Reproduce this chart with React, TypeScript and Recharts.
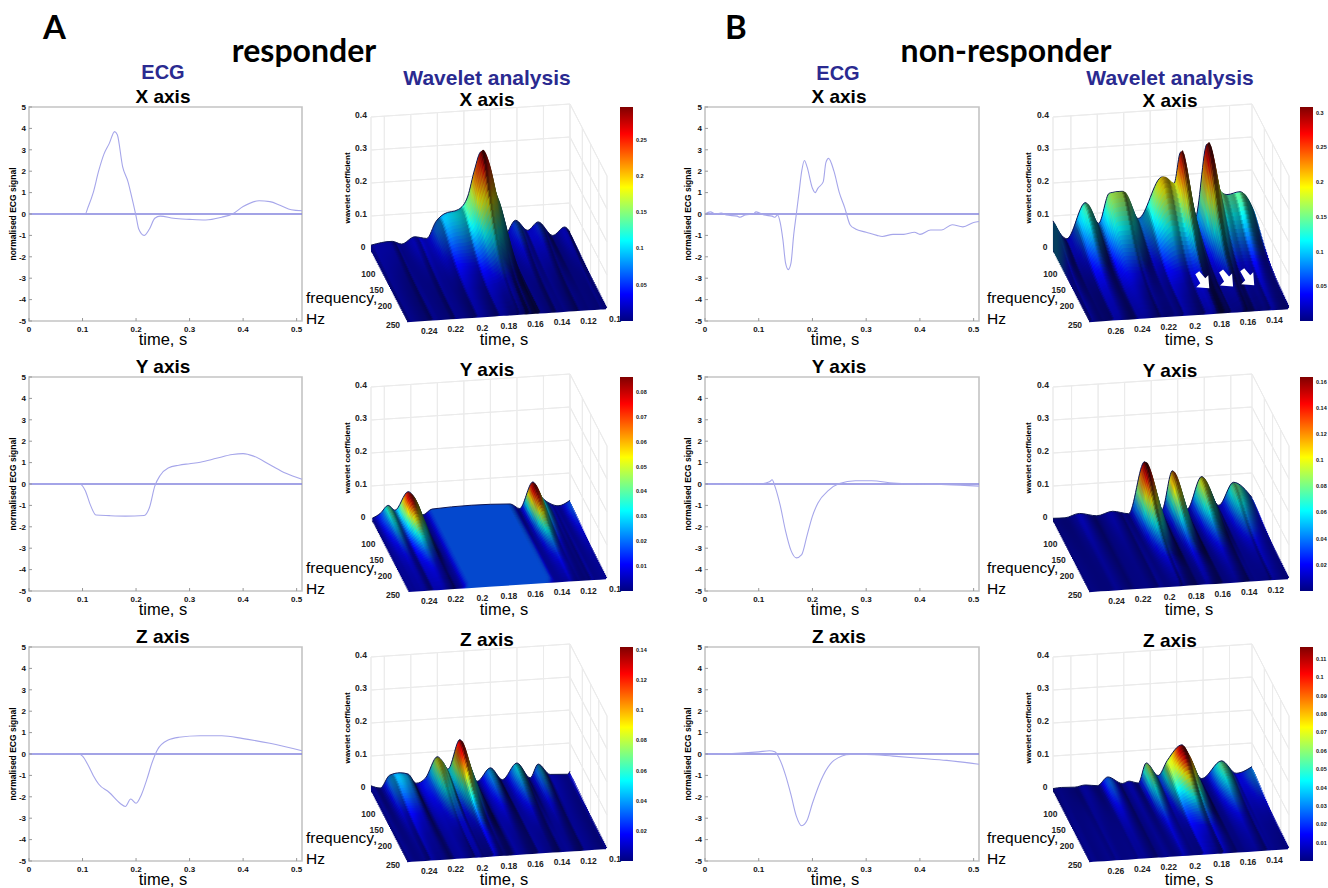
import React from 'react';
import { Area, Bar, BarChart, ComposedChart, Line, LineChart, ReferenceArea, ReferenceLine, Scatter, XAxis, YAxis } from 'recharts';

// ECG traces: time in s, normalised signal
const ecgAxTime = [0, 0.05, 0.09, 0.105, 0.11, 0.12, 0.13, 0.14, 0.15, 0.16, 0.165, 0.175, 0.185, 0.19, 0.2, 0.205, 0.215, 0.225, 0.235, 0.245, 0.27, 0.3, 0.33, 0.36, 0.38, 0.4, 0.43, 0.45, 0.47, 0.49, 0.51];
const ecgAxValue = [0, 0, -0.02, 0, 0.3, 1, 2, 2.8, 3.3, 3.85, 3.7, 2.2, 1.5, 1, -0.1, -0.7, -1, -0.7, -0.2, -0.1, -0.2, -0.25, -0.28, -0.15, 0, 0.35, 0.62, 0.58, 0.4, 0.2, 0.15];
const ecgAyTime = [0, 0.095, 0.105, 0.115, 0.125, 0.15, 0.18, 0.215, 0.225, 0.235, 0.245, 0.26, 0.28, 0.3, 0.32, 0.35, 0.38, 0.4, 0.42, 0.45, 0.48, 0.51];
const ecgAyValue = [0, 0, -0.3, -1, -1.45, -1.48, -1.5, -1.47, -1.1, -0.1, 0.4, 0.75, 0.88, 0.95, 1.02, 1.2, 1.38, 1.42, 1.3, 0.9, 0.5, 0.22];
const ecgAzTime = [0, 0.09, 0.1, 0.11, 0.12, 0.13, 0.15, 0.17, 0.18, 0.19, 0.2, 0.21, 0.22, 0.23, 0.24, 0.26, 0.28, 0.32, 0.36, 0.4, 0.45, 0.51];
const ecgAzValue = [0, 0.02, -0.1, -0.5, -1, -1.4, -1.8, -2.3, -2.45, -2.1, -2.3, -1.9, -1.2, -0.4, 0.2, 0.65, 0.78, 0.85, 0.85, 0.72, 0.5, 0.15];
const ecgBxTime = [0, 0.01, 0.02, 0.03, 0.04, 0.06, 0.065, 0.075, 0.09, 0.095, 0.11, 0.125, 0.13, 0.135, 0.14, 0.145, 0.15, 0.155, 0.16, 0.165, 0.17, 0.175, 0.18, 0.185, 0.19, 0.2, 0.205, 0.21, 0.22, 0.225, 0.23, 0.24, 0.25, 0.26, 0.27, 0.28, 0.3, 0.32, 0.33, 0.35, 0.37, 0.39, 0.4, 0.42, 0.44, 0.46, 0.48, 0.5, 0.51];
const ecgBxValue = [0, 0.1, 0, 0.05, -0.05, -0.1, -0.15, -0.05, 0, 0.1, -0.05, -0.1, -0.15, -0.05, -0.4, -1.2, -2.3, -2.6, -2.3, -1, 0, 1, 2, 2.5, 2.2, 1.2, 1, 1.2, 1.5, 2.4, 2.6, 2, 1, 0.3, -0.5, -0.7, -0.85, -1, -1.05, -0.95, -0.95, -0.85, -0.95, -0.75, -0.75, -0.5, -0.6, -0.4, -0.35];
const ecgByTime = [0, 0.05, 0.1, 0.12, 0.125, 0.13, 0.14, 0.15, 0.16, 0.17, 0.18, 0.19, 0.2, 0.21, 0.23, 0.25, 0.28, 0.31, 0.35, 0.4, 0.45, 0.51];
const ecgByValue = [0, -0.02, 0, 0.1, 0.2, -0.1, -1, -2.2, -3.1, -3.45, -3.3, -2.4, -1.5, -0.9, -0.3, 0.02, 0.15, 0.15, 0.05, 0, -0.03, -0.1];
const ecgBzTime = [0, 0.05, 0.1, 0.12, 0.13, 0.14, 0.15, 0.16, 0.17, 0.18, 0.19, 0.2, 0.22, 0.24, 0.27, 0.3, 0.35, 0.4, 0.45, 0.51];
const ecgBzValue = [0, 0.02, 0.1, 0.15, 0.1, -0.3, -1, -1.9, -2.9, -3.35, -3.1, -2.3, -1, -0.3, -0.02, -0.02, -0.1, -0.2, -0.3, -0.48];

// wavelet surfaces: time knots, coefficient along the low and the high frequency edge
const waveAxTime = [0.25, 0.234, 0.227, 0.217, 0.208, 0.201, 0.195, 0.184, 0.177, 0.172, 0.167, 0.162, 0.158, 0.153, 0.15, 0.141, 0.132, 0.124, 0.113, 0.104, 0.1];
const waveAxBack = [0.012, 0.02, 0.009, 0.03, 0.022, 0.075, 0.097, 0.109, 0.15, 0.233, 0.29, 0.245, 0.17, 0.102, 0.012, 0.062, 0.027, 0.052, 0.005, 0.03, 0.012];
const waveAxFront = [0.006, 0.003, 0.007, 0.003, 0.006, 0.004, 0.008, 0.004, 0.007, 0.003, 0.01, 0.004, 0.008, 0.003, 0.007, 0.003, 0.006, 0.003, 0.006, 0.003, 0.005];
const waveAyTime = [0.249, 0.243, 0.237, 0.232, 0.222, 0.217, 0.211, 0.204, 0.145, 0.138, 0.128, 0.121, 0.115, 0.109, 0.1];
const waveAyBack = [0.002, 0.016, 0.04, 0.023, 0.08, 0.058, 0.002, 0.018, 0.018, 0.002, 0.085, 0.033, 0.012, 0.003, 0.018];
const waveAyFront = [0.004, 0.003, 0.006, 0.003, 0.006, 0.004, 0.003, 0.018, 0.018, 0.004, 0.006, 0.003, 0.004, 0.003, 0.004];
const waveAzTime = [0.25, 0.243, 0.236, 0.228, 0.222, 0.216, 0.209, 0.2, 0.196, 0.192, 0.183, 0.177, 0.17, 0.16, 0.151, 0.14, 0.13, 0.124, 0.115, 0.102, 0.1];
const waveAzBack = [0.01, 0.001, 0.04, 0.046, 0.04, 0.009, 0.023, 0.09, 0.073, 0.048, 0.14, 0.069, 0.002, 0.043, 0.002, 0.053, 0.002, 0.045, 0.009, 0.006, 0.015];
const waveAzFront = [0.005, 0.003, 0.006, 0.003, 0.006, 0.003, 0.007, 0.004, 0.008, 0.003, 0.009, 0.004, 0.007, 0.003, 0.006, 0.003, 0.006, 0.003, 0.005, 0.003, 0.004];
const waveBxTime = [0.2735, 0.263, 0.249, 0.239, 0.231, 0.221, 0.209, 0.191, 0.182, 0.177, 0.171, 0.166, 0.157, 0.148, 0.142, 0.132, 0.123];
const waveBxBack = [0.09, 0.03, 0.142, 0.073, 0.167, 0.171, 0.08, 0.209, 0.185, 0.285, 0.15, 0.07, 0.305, 0.155, 0.138, 0.145, 0.09];
const waveBxFront = [0.01, 0.003, 0.012, 0.004, 0.012, 0.005, 0.012, 0.004, 0.014, 0.005, 0.012, 0.004, 0.012, 0.004, 0.012, 0.005, 0.01];
const waveByTime = [0.254, 0.245, 0.234, 0.221, 0.209, 0.197, 0.185, 0.172, 0.164, 0.153, 0.142, 0.129, 0.118, 0.104];
const waveByBack = [0.002, 0.001, 0.012, 0.001, 0.012, 0.001, 0.165, 0.006, 0.13, 0.003, 0.105, 0.009, 0.08, 0.027];
const waveByFront = [0.004, 0.003, 0.005, 0.003, 0.005, 0.003, 0.008, 0.003, 0.008, 0.003, 0.007, 0.004, 0.006, 0.005];
const waveBzTime = [0.2735, 0.267, 0.257, 0.249, 0.24, 0.232, 0.221, 0.216, 0.209, 0.203, 0.194, 0.187, 0.176, 0.172, 0.161, 0.146, 0.135, 0.123];
const waveBzBack = [0.001, 0.003, 0.001, 0.006, 0.001, 0.027, 0.003, 0.009, 0.001, 0.064, 0.021, 0.068, 0.115, 0.09, 0.002, 0.055, 0.012, 0.03];
const waveBzFront = [0.004, 0.003, 0.005, 0.003, 0.005, 0.004, 0.003, 0.005, 0.003, 0.007, 0.004, 0.007, 0.004, 0.008, 0.003, 0.006, 0.003, 0.005];

// share of the ridge height kept at each frequency step, low to high frequency
const frequencyFalloff = [0.94, 0.97, 1, 0.99, 0.96, 0.92, 0.87, 0.82, 0.77, 0.71, 0.66, 0.6, 0.55, 0.5, 0.45, 0.41, 0.37, 0.33, 0.29, 0.26, 0.23, 0.2, 0.18, 0.16, 0.14, 0.12, 0.1, 0.09, 0.08, 0.07, 0.06, 0.05, 0.045, 0.04, 0.03, 0.03, 0.02, 0.02, 0.01, 0];

const ecgTimeTicks = [0, 0.1, 0.2, 0.3, 0.4, 0.5];
const ecgValueTicks = [-5, -4, -3, -2, -1, 0, 1, 2, 3, 4, 5];
const coefTicks = [0, 0.1, 0.2, 0.3, 0.4];
const freqTicks = [100, 150, 200, 250];
const timeTicksA = [0.24, 0.22, 0.2, 0.18, 0.16, 0.14, 0.12, 0.1];
const timeTicksB = [0.24, 0.22, 0.2, 0.18, 0.16, 0.14, 0.12];
const timeTicksC = [0.26, 0.24, 0.22, 0.2, 0.18, 0.16, 0.14];
const barTicksAx = [0.05, 0.1, 0.15, 0.2, 0.25];
const barTicksAy = [0.01, 0.02, 0.03, 0.04, 0.05, 0.06, 0.07, 0.08];
const barTicksAz = [0.02, 0.04, 0.06, 0.08, 0.1, 0.12, 0.14];
const barTicksBx = [0.05, 0.1, 0.15, 0.2, 0.25, 0.3];
const barTicksBy = [0.02, 0.04, 0.06, 0.08, 0.1, 0.12, 0.14, 0.16];
const barTicksBz = [0.01, 0.02, 0.03, 0.04, 0.05, 0.06, 0.07, 0.08, 0.09, 0.1, 0.11];
const arrowTimes = [0.176, 0.158, 0.142];

const SANS = '"Liberation Sans", Arial, sans-serif';
const TITLE_BLUE = '#2a2a90';
const BACK_DX = 199;
const BACK_DY = -13;
const DEPTH_DX = 37;
const DEPTH_DY = 72;
const COEF_PX = 330;
const ROWS = [107, 377, 647];

const clamp = (v: number) => Math.max(0, Math.min(1, v));
const jet = (v: number, shade = 1, mute = 0) => {
  const mix = (c: number) => clamp(clamp(c) * shade * (1 - mute) + mute * 0.12);
  const r = mix(1.5 - Math.abs(4 * v - 3));
  const g = mix(1.5 - Math.abs(4 * v - 2));
  const b = mix(1.5 - Math.abs(4 * v - 1));
  return `rgb(${Math.round(r * 255)},${Math.round(g * 255)},${Math.round(b * 255)})`;
};

const Txt = ({ x, y, size, children, bold, color, rotate, left }: any) => (
  <div
    style={{
      position: 'absolute',
      left: x,
      top: y,
      transform: `translate(${left ? '0' : '-50%'},-50%)${rotate ? ` rotate(${rotate}deg)` : ''}`,
      fontFamily: SANS,
      fontSize: size,
      fontWeight: bold ? 700 : 400,
      color: color || '#000',
      whiteSpace: 'nowrap',
      lineHeight: 1,
    }}
  >
    {children}
  </div>
);

const EcgPanel = ({ time, value, left, top, width }: any) => {
  const data = time.map((t: number, i: number) => ({ t, v: value[i] }));
  const tickStyle = { fontSize: 8, fontWeight: 700, fill: '#111', fontFamily: SANS };
  return (
    <div style={{ position: 'absolute', left: left - 30, top: top - 6 }}>
      <LineChart width={width + 36} height={236} data={data} margin={{ top: 6, right: 6, left: 0, bottom: 0 }}>
        <XAxis dataKey="t" type="number" domain={[0, 0.51]} ticks={ecgTimeTicks} interval={0} height={16} tick={tickStyle} tickSize={-3} tickMargin={8} axisLine={false} stroke="#999" />
        <XAxis xAxisId="top" orientation="top" dataKey="t" type="number" domain={[0, 0.51]} ticks={ecgTimeTicks} interval={0} height={0} tickFormatter={() => ''} tickSize={-3} axisLine={false} stroke="#aaa" />
        <YAxis type="number" domain={[-5, 5]} ticks={ecgValueTicks} interval={0} width={30} tick={tickStyle} tickSize={-3} tickMargin={6} axisLine={false} stroke="#999" />
        <YAxis yAxisId="right" orientation="right" type="number" domain={[-5, 5]} ticks={ecgValueTicks} interval={0} width={0} tickFormatter={() => ''} tickSize={-3} axisLine={false} stroke="#aaa" />
        <ReferenceArea x1={0} x2={0.51} y1={-5} y2={5} fill="none" fillOpacity={0} stroke="#c4c4c4" strokeWidth={1.6} />
        <ReferenceLine y={0} stroke="#8585de" strokeWidth={1.4} />
        <Line dataKey="v" type="monotone" stroke="#a6a6ea" strokeWidth={1.1} dot={false} isAnimationActive={false} />
      </LineChart>
    </div>
  );
};

const GRID = '#ebebeb';
const WaveletPanel = ({ id, ox, oy, tLeft, tRight, time, back, front, zMax, timeTicks, arrows }: any) => {
  const chartLeft = ox - 25;
  const chartTop = oy - 150;
  const w = 285;
  const h = 236;
  const project = (u: number, v: number, z: number) => ({
    x: ox + BACK_DX * u + DEPTH_DX * v,
    y: oy + BACK_DY * u + DEPTH_DY * v - COEF_PX * z,
  });
  const toU = (t: number) => (tLeft - t) / (tLeft - tRight);
  const freqV = (f: number) => (f - 25) / 225;
  const edge = (a: any, b: any) => [
    { x: a.x, range: [a.y, a.y] },
    { x: b.x + (b.x === a.x ? 0.01 : 0), range: [b.y, b.y] },
  ];

  const lines: any[] = [];
  coefTicks.slice(1).forEach((z: number) => {
    lines.push(edge(project(0, 0, z), project(1, 0, z)));
    lines.push(edge(project(1, 0, z), project(1, 1, z)));
  });
  lines.push(edge(project(0, 0, 0), project(1, 0, 0)));
  lines.push(edge(project(1, 0, 0), project(1, 1, 0)));
  lines.push(edge(project(0, 0, 0), project(0, 1, 0)));
  lines.push(edge(project(0, 1, 0), project(1, 1, 0)));
  lines.push(edge(project(0, 0, 0), project(0, 0, 0.4)));
  lines.push(edge(project(1, 1, 0), project(1, 1, 0.4)));
  timeTicks.forEach((t: number) => {
    if (toU(t) <= 1) lines.push(edge(project(toU(t), 0, 0), project(toU(t), 0, 0.4)));
  });
  lines.push(edge(project(1, 0, 0), project(1, 0, 0.4)));
  freqTicks.slice(0, 3).forEach((f: number) => lines.push(edge(project(1, freqV(f), 0), project(1, freqV(f), 0.4))));

  const n = frequencyFalloff.length;
  const us = time.map(toU);
  const u0 = us[0];
  const uEnd = us[us.length - 1];
  const slices = frequencyFalloff.map((keep: number, k: number) => {
    const v = k / (n - 1);
    const z = time.map((_: number, i: number) => front[i] + (back[i] - front[i]) * keep);
    const points = time.map((_: number, i: number) => {
      const top = project(us[i], v, z[i]);
      const base = project(us[i], v, 0);
      return { x: top.x, range: [base.y + (k < n - 1 ? 3 : 0), top.y] };
    });
    const stops: any[] = [];
    let j = 0;
    for (let i = 0; i < time.length - 1; i++) {
      const steps = Math.max(3, Math.round((BACK_DX * (us[i + 1] - us[i])) / 2.5));
      for (let s = 0; s < steps; s++) {
        const f = s / steps;
        const e = f * f * (3 - 2 * f);
        const zz = z[i] + (z[i + 1] - z[i]) * e;
        const fall = ((back[i] - back[i + 1]) * COEF_PX) / (BACK_DX * (us[i + 1] - us[i])) * Math.sqrt(Math.max(keep, 0.05));
        const shade = 1 - Math.min(0.62, Math.max(0, fall * 0.6 * (0.5 + 2 * f * (1 - f))));
        // mesh streaks run along the frequency direction
        const amp = 0.5 * Math.min(1, Math.abs(back[i] - front[i]) / 0.01);
        const grain = 1 + amp * (((j * 17) % 9) / 8 - 0.5);
        j += 1;
        stops.push({
          offset: ((us[i] + (us[i + 1] - us[i]) * f - u0) / (uEnd - u0)) * 100,
          color: jet(zz / zMax, 0.9 * shade * grain, 0.12),
        });
      }
    }
    stops.push({ offset: 100, color: jet(z[z.length - 1] / zMax, 0.9, 0.12) });
    return { k, points, stops };
  });

  const labels: any[] = [];
  coefTicks.forEach((z: number) => {
    const p = project(0, 0, z);
    labels.push({ x: p.x - (z === 0 ? 8 : 10), y: p.y - 2, label: String(z) });
  });
  freqTicks.forEach((f: number) => {
    const p = project(0, freqV(f), 0);
    labels.push({ x: p.x - 15, y: p.y + (f === 250 ? 4 : 1), label: String(f) });
  });
  timeTicks.forEach((t: number) => {
    const p = project(toU(t), 1, 0);
    labels.push({ x: p.x + 8, y: p.y + 11, label: String(t) });
  });
  const arrowData = (arrows || []).map((t: number) => {
    const p = project(toU(t), 0.55, 0);
    return { x: p.x, y: p.y };
  });

  return (
    <div style={{ position: 'absolute', left: chartLeft, top: chartTop }}>
      <ComposedChart width={w} height={h} margin={{ top: 0, right: 0, bottom: 0, left: 0 }}>
        <defs>
          {slices.map((sl: any) => (
            <linearGradient key={sl.k} id={`${id}-s${sl.k}`} x1="0" y1="0" x2="1" y2="0">
              {sl.stops.map((st: any, i: number) => (
                <stop key={i} offset={`${st.offset}%`} stopColor={st.color} />
              ))}
            </linearGradient>
          ))}
        </defs>
        <XAxis hide type="number" dataKey="x" domain={[chartLeft, chartLeft + w]} allowDataOverflow />
        <YAxis hide type="number" reversed domain={[chartTop, chartTop + h]} allowDataOverflow />
        {lines.map((d: any, i: number) => (
          <Area key={`g${i}`} data={d} dataKey="range" type="linear" fill="none" stroke={GRID} strokeWidth={1} dot={false} activeDot={false} isAnimationActive={false} />
        ))}
        {slices.map((sl: any) => (
          <Area
            key={`s${sl.k}`}
            data={sl.points}
            dataKey="range"
            type="monotone"
            fill={`url(#${id}-s${sl.k})`}
            fillOpacity={1}
            stroke={sl.k === 0 ? '#0c1450' : 'none'}
            strokeWidth={1}
            dot={false}
            activeDot={false}
            isAnimationActive={false}
          />
        ))}
        <Scatter
          data={labels}
          dataKey="y"
          isAnimationActive={false}
          shape={(p: any) => (
            <text x={p.cx} y={p.cy} textAnchor="middle" dominantBaseline="central" fontFamily={SANS} fontWeight={700} fontSize={8.5} fill="#222">
              {p.payload.label}
            </text>
          )}
        />
        {arrowData.length > 0 && (
          <Scatter
            data={arrowData}
            dataKey="y"
            isAnimationActive={false}
            shape={(p: any) => (
              <path transform={`translate(${p.cx},${p.cy})`} d="M-7,-6 L-3,-9 L3,-2 L6,-5 L7,8 L-6,7 L-2,3 Z" fill="#fff" />
            )}
          />
        )}
      </ComposedChart>
    </div>
  );
};

const jetStops = [0, 0.125, 0.25, 0.375, 0.5, 0.625, 0.75, 0.875, 1];
const ColorBar = ({ id, left, top, max, ticks }: any) => (
  <div style={{ position: 'absolute', left, top }}>
    <BarChart width={28} height={214} data={[{ name: 'c', v: max }]} margin={{ top: 0, right: 0, bottom: 0, left: 0 }} barCategoryGap={0}>
      <defs>
        <linearGradient id={id} x1="0" y1="1" x2="0" y2="0">
          {jetStops.map((s) => (
            <stop key={s} offset={`${s * 100}%`} stopColor={jet(s)} />
          ))}
        </linearGradient>
      </defs>
      <XAxis hide dataKey="name" />
      <YAxis
        orientation="right"
        width={15}
        type="number"
        domain={[0, max]}
        ticks={ticks}
        interval={0}
        tickLine={false}
        tickSize={0}
        axisLine={false}
        tick={(p: any) => (
          <text x={p.x + 1} y={p.y} dominantBaseline="central" fontFamily={SANS} fontWeight={700} fontSize={5.5} fill="#111">
            {String(p.payload.value)}
          </text>
        )}
      />
      <Bar dataKey="v" fill={`url(#${id})`} isAnimationActive={false} />
    </BarChart>
  </div>
);

const ecgColumn = (left: number, width: number, traces: any[]) =>
  traces.map((tr, i) => <EcgPanel key={`${left}-${i}`} time={tr[0]} value={tr[1]} left={left} top={ROWS[i]} width={width} />);

const bigText = { position: 'absolute', fontFamily: 'Lato, sans-serif', fontWeight: 700, lineHeight: 1 } as const;

export default function App() {
  return (
    <div style={{ position: 'absolute', left: 0, top: 0, width: 1328, height: 888, background: '#fff', overflow: 'hidden' }}>
      {ecgColumn(29, 273, [[ecgAxTime, ecgAxValue], [ecgAyTime, ecgAyValue], [ecgAzTime, ecgAzValue]])}
      {ecgColumn(705, 274, [[ecgBxTime, ecgBxValue], [ecgByTime, ecgByValue], [ecgBzTime, ecgBzValue]])}

      <WaveletPanel id="ax" ox={371} oy={249} tLeft={0.25} tRight={0.1} time={waveAxTime} back={waveAxBack} front={waveAxFront} zMax={0.295} timeTicks={timeTicksA} />
      <WaveletPanel id="ay" ox={371} oy={519} tLeft={0.25} tRight={0.1} time={waveAyTime} back={waveAyBack} front={waveAyFront} zMax={0.086} timeTicks={timeTicksA} />
      <WaveletPanel id="az" ox={371} oy={789} tLeft={0.25} tRight={0.1} time={waveAzTime} back={waveAzBack} front={waveAzFront} zMax={0.142} timeTicks={timeTicksA} />
      <WaveletPanel id="bx" ox={1053} oy={249} tLeft={0.2735} tRight={0.123} time={waveBxTime} back={waveBxBack} front={waveBxFront} zMax={0.308} timeTicks={timeTicksC} arrows={arrowTimes} />
      <WaveletPanel id="by" ox={1053} oy={519} tLeft={0.254} tRight={0.104} time={waveByTime} back={waveByBack} front={waveByFront} zMax={0.1635} timeTicks={timeTicksB} />
      <WaveletPanel id="bz" ox={1053} oy={789} tLeft={0.2735} tRight={0.123} time={waveBzTime} back={waveBzBack} front={waveBzFront} zMax={0.1165} timeTicks={timeTicksC} />

      <ColorBar id="cbax" left={620} top={107} max={0.295} ticks={barTicksAx} />
      <ColorBar id="cbay" left={620} top={377} max={0.086} ticks={barTicksAy} />
      <ColorBar id="cbaz" left={620} top={647} max={0.142} ticks={barTicksAz} />
      <ColorBar id="cbbx" left={1300} top={107} max={0.308} ticks={barTicksBx} />
      <ColorBar id="cbby" left={1300} top={377} max={0.1635} ticks={barTicksBy} />
      <ColorBar id="cbbz" left={1300} top={647} max={0.1165} ticks={barTicksBz} />

      <div style={{ ...bigText, left: 43, top: 10, fontSize: 33 }}>A</div>
      <div style={{ ...bigText, left: 725, top: 10, fontSize: 33 }}>B</div>
      <div style={{ ...bigText, left: 304, top: 50, fontSize: 32, transform: 'translate(-50%,-50%)' }}>responder</div>
      <div style={{ ...bigText, left: 1006, top: 50, fontSize: 32, transform: 'translate(-50%,-50%)' }}>non-responder</div>

      <Txt x={163} y={72} size={20} bold color={TITLE_BLUE}>ECG</Txt>
      <Txt x={838} y={73} size={20} bold color={TITLE_BLUE}>ECG</Txt>
      <Txt x={487} y={77} size={21} bold color={TITLE_BLUE}>Wavelet analysis</Txt>
      <Txt x={1170} y={77} size={21} bold color={TITLE_BLUE}>Wavelet analysis</Txt>

      {['X axis', 'Y axis', 'Z axis'].map((name, i) => (
        <React.Fragment key={name}>
          <Txt x={163} y={96 + 270 * i} size={19} bold>{name}</Txt>
          <Txt x={487} y={99 + 270 * i} size={19} bold>{name}</Txt>
          <Txt x={839} y={96 + 270 * i} size={19} bold>{name}</Txt>
          <Txt x={1170} y={100 + 270 * i} size={19} bold>{name}</Txt>
          <Txt x={163} y={339 + 270 * i} size={16.5}>time, s</Txt>
          <Txt x={835} y={339 + 270 * i} size={16.5}>time, s</Txt>
          <Txt x={504} y={339 + 270 * i} size={16.5}>time, s</Txt>
          <Txt x={1189} y={339 + 270 * i} size={16.5}>time, s</Txt>
          <Txt x={13} y={214 + 270 * i} size={8.5} bold rotate={-90}>normalised ECG signal</Txt>
          <Txt x={688} y={214 + 270 * i} size={8.5} bold rotate={-90}>normalised ECG signal</Txt>
          <Txt x={348} y={188 + 270 * i} size={8} bold rotate={-90}>wavelet coefficient</Txt>
          <Txt x={1029} y={188 + 270 * i} size={8} bold rotate={-90}>wavelet coefficient</Txt>
          <Txt x={306} y={298 + 270 * i} size={15.5} left>frequency,</Txt>
          <Txt x={306} y={319 + 270 * i} size={15.5} left>Hz</Txt>
          <Txt x={987} y={298 + 270 * i} size={15.5} left>frequency,</Txt>
          <Txt x={987} y={319 + 270 * i} size={15.5} left>Hz</Txt>
        </React.Fragment>
      ))}
    </div>
  );
}
